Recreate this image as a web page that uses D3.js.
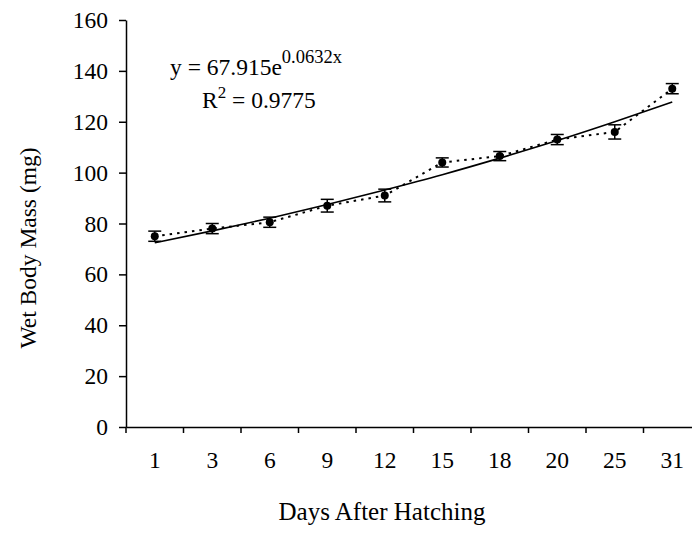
<!DOCTYPE html>
<html>
  <head>
    <meta charset="utf-8" />
    <title>wet body mass</title>
    <script src="https://cdn.jsdelivr.net/npm/d3@7/dist/d3.min.js"></script>
    <style type="text/css">
      body { margin: 0; background: #fff; }
      text { font-family: "Liberation Serif", "Times New Roman", serif; fill: #000; }
    </style>
  </head>

  <body>
    <svg id="chart" width="692" height="539"></svg>
    <script type="text/javascript">
      // data
      var days = ['1', '3', '6', '9', '12', '15', '18', '20', '25', '31'];
      var mass = [75, 78, 80.5, 87, 91, 104, 106.5, 113, 116, 133];
      var err = [2, 2, 2, 2.5, 2.5, 1.8, 1.8, 2, 2.8, 2];
      var trend = [72.4, 77.1, 82.1, 87.5, 93.2, 99.2, 105.7, 112.6, 120.0, 127.8];
      var yTicks = [0, 20, 40, 60, 80, 100, 120, 140, 160];

      var svg = d3.select('#chart');

      var x = d3.scaleBand().domain(days).range([126, 701]).padding(0),
        y = d3.scaleLinear().domain([0, 160]).range([427, 20]);

      var cx = (d, i) => x(days[i]) + x.bandwidth() / 2;

      // y axis
      var gy = svg.append('g').attr('transform', 'translate(126,0)')
        .call(d3.axisLeft(y).tickValues(yTicks).tickSize(7).tickPadding(11).tickSizeOuter(0));
      gy.selectAll('text').style('font-size', '23.5px').style('font-family', 'Liberation Serif');

      // x axis: labels at band centres, ticks at band edges
      var gx = svg.append('g').attr('transform', 'translate(0,427)')
        .call(d3.axisBottom(x).tickSize(0).tickPadding(24).tickSizeOuter(0));
      gx.selectAll('text').style('font-size', '23.5px').style('font-family', 'Liberation Serif');
      gx.selectAll('.edge').data(days).enter().append('line')
        .attr('class', 'edge')
        .attr('x1', (d) => x(d)).attr('x2', (d) => x(d))
        .attr('y1', 0).attr('y2', 6)
        .attr('stroke', '#000').attr('stroke-width', 1.5);
      svg.selectAll('.domain').attr('stroke-width', 1.5);
      svg.selectAll('.tick line').attr('stroke-width', 1.5);

      // trend line
      svg.append('path')
        .datum(trend)
        .attr('fill', 'none').attr('stroke', '#000').attr('stroke-width', 1.6)
        .attr('d', d3.line().x(cx).y((d) => y(d)).curve(d3.curveMonotoneX));

      // dotted line through means
      svg.append('path')
        .datum(mass)
        .attr('fill', 'none').attr('stroke', '#000').attr('stroke-width', 2)
        .attr('stroke-dasharray', '2.5,5')
        .attr('d', d3.line().x(cx).y((d) => y(d)));

      // error bars
      var eb = svg.selectAll('.eb').data(mass).enter().append('g').attr('class', 'eb');
      eb.append('line')
        .attr('x1', cx).attr('x2', cx)
        .attr('y1', (d, i) => y(d + err[i])).attr('y2', (d, i) => y(d - err[i]))
        .attr('stroke', '#000').attr('stroke-width', 1.5);
      eb.append('line')
        .attr('x1', (d, i) => cx(d, i) - 6.5).attr('x2', (d, i) => cx(d, i) + 6.5)
        .attr('y1', (d, i) => y(d + err[i])).attr('y2', (d, i) => y(d + err[i]))
        .attr('stroke', '#000').attr('stroke-width', 1.5);
      eb.append('line')
        .attr('x1', (d, i) => cx(d, i) - 6.5).attr('x2', (d, i) => cx(d, i) + 6.5)
        .attr('y1', (d, i) => y(d - err[i])).attr('y2', (d, i) => y(d - err[i]))
        .attr('stroke', '#000').attr('stroke-width', 1.5);

      // markers
      svg.selectAll('.pt').data(mass).enter().append('circle')
        .attr('class', 'pt')
        .attr('cx', cx).attr('cy', (d) => y(d)).attr('r', 4)
        .attr('fill', '#000');

      // equation
      var eq = svg.append('text').attr('x', 170).attr('y', 75).style('font-size', '23.5px');
      eq.append('tspan').text('y = 67.915e');
      eq.append('tspan').attr('dy', -12).style('font-size', '18.5px').text('0.0632x');

      var r2 = svg.append('text').attr('x', 202).attr('y', 108).style('font-size', '23.5px');
      r2.append('tspan').text('R');
      r2.append('tspan').attr('dy', -10).style('font-size', '17px').text('2');
      r2.append('tspan').attr('dy', 10).text(' = 0.9775');

      // axis titles
      svg.append('text')
        .attr('transform', 'translate(36,248) rotate(-90)')
        .attr('text-anchor', 'middle').style('font-size', '23.5px')
        .text('Wet Body Mass (mg)');
      svg.append('text')
        .attr('x', 382).attr('y', 520)
        .attr('text-anchor', 'middle').style('font-size', '25px')
        .text('Days After Hatching');
    </script>
  </body>
</html>
